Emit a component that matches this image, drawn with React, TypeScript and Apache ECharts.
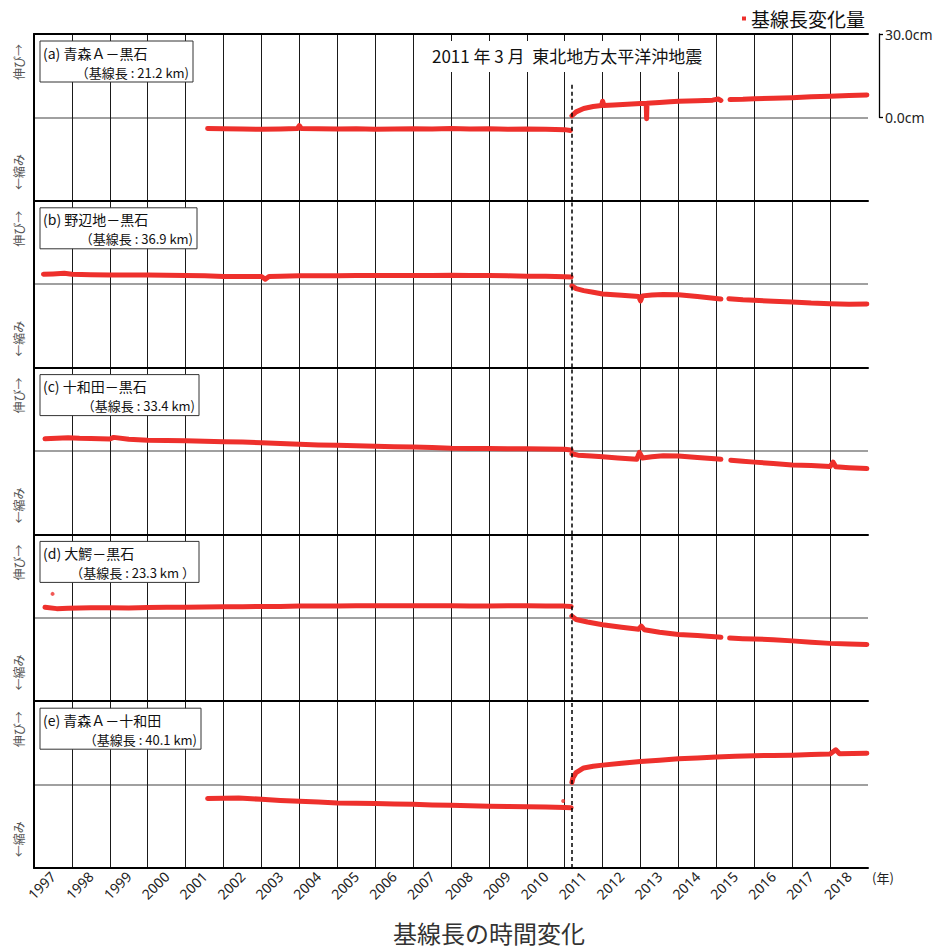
import React, { useEffect, useRef } from "react";
import * as echarts from "echarts";

// ---- Data (cm change of baseline length), null = gap ----
const yearLabels = ["1997","1998","1999","2000","2001","2002","2003","2004","2005","2006","2007","2008","2009","2010","2011","2012","2013","2014","2015","2016","2017","2018"];
const quakeYear = 2011.19;

const aYears = [2001.58,2002.0,2002.5,2003.0,2003.5,2003.95,2004.0,2004.05,2004.5,2005.0,2005.5,2006.0,2006.5,2007.0,2007.5,2008.0,2008.5,2009.0,2009.5,2010.0,2010.5,2011.0,2011.15,2011.17,2011.19,2011.3,2011.5,2011.75,2011.97,2012.0,2012.03,2012.3,2012.65,2013.0,2013.15,2013.16,2013.17,2013.5,2013.78,2014.0,2014.5,2014.9,2015.05,2015.12,2015.2,2015.36,2015.7,2016.0,2016.5,2017.0,2017.5,2018.0,2018.5,2018.97];
const aValues = [-4.0,-4.1,-4.2,-4.3,-4.2,-4.0,-3.0,-4.0,-4.1,-4.2,-4.1,-4.3,-4.2,-4.1,-4.2,-4.0,-4.2,-4.1,-4.3,-4.2,-4.3,-4.4,-4.7,null,0.6,2.0,3.2,3.9,4.3,5.8,4.3,4.5,4.7,5.0,5.0,-0.5,5.1,5.4,5.6,5.8,6.0,6.2,6.6,6.1,null,6.4,6.5,6.7,6.9,7.1,7.4,7.6,7.9,8.1];

const bYears = [1997.25,1997.5,1997.8,1998.0,1998.5,1999.0,1999.5,2000.0,2000.5,2001.0,2001.5,2002.0,2002.5,2003.0,2003.1,2003.2,2003.5,2004.0,2004.5,2005.0,2005.5,2006.0,2006.5,2007.0,2007.5,2008.0,2008.5,2009.0,2009.5,2010.0,2010.5,2011.0,2011.17,2011.18,2011.19,2011.3,2011.5,2011.75,2012.0,2012.5,2012.95,2013.0,2013.05,2013.3,2013.6,2014.0,2014.5,2015.05,2015.12,2015.2,2015.33,2015.7,2016.0,2016.5,2017.0,2017.5,2018.0,2018.5,2018.97];
const bValues = [3.6,3.7,3.9,3.6,3.4,3.3,3.3,3.3,3.2,3.1,3.0,2.8,2.8,2.8,1.8,2.8,2.9,3.0,3.0,3.0,3.1,3.1,3.1,3.1,3.1,3.2,3.1,3.1,3.0,2.9,2.9,2.7,2.6,null,-0.6,-1.6,-2.3,-2.9,-3.5,-4.0,-4.4,-6.0,-4.2,-3.9,-3.7,-3.8,-4.4,-5.2,-5.3,null,-5.2,-5.6,-5.8,-6.1,-6.4,-6.8,-7.0,-7.2,-7.1];

const cYears = [1997.29,1997.6,1997.9,1998.2,1998.5,1999.0,1999.1,1999.5,2000.0,2000.5,2001.0,2001.5,2002.0,2002.5,2003.0,2003.5,2004.0,2004.5,2005.0,2005.5,2006.0,2006.5,2007.0,2007.5,2008.0,2008.5,2009.0,2009.5,2010.0,2010.5,2011.0,2011.17,2011.18,2011.19,2011.35,2011.7,2012.0,2012.4,2012.9,2012.97,2013.05,2013.3,2013.6,2014.0,2014.5,2015.05,2015.12,2015.2,2015.38,2015.7,2016.0,2016.5,2017.0,2017.5,2018.0,2018.08,2018.15,2018.5,2018.97];
const cValues = [4.4,4.6,4.8,4.6,4.5,4.3,4.9,4.2,3.9,3.8,3.7,3.5,3.3,3.2,3.0,2.7,2.4,2.2,2.1,1.9,1.7,1.5,1.4,1.3,1.0,0.9,0.9,0.8,0.8,0.7,0.6,0.4,null,-1.0,-1.5,-1.8,-2.1,-2.5,-3.0,-0.5,-2.5,-2.1,-1.7,-1.8,-2.3,-2.9,-3.0,null,-3.3,-3.7,-4.0,-4.5,-5.0,-5.2,-5.6,-4.0,-5.7,-6.0,-6.3];

const dYears = [1997.29,1997.6,1997.9,1998.2,1998.5,1999.0,1999.5,2000.0,2000.5,2001.0,2001.5,2002.0,2002.5,2003.0,2003.5,2004.0,2004.5,2005.0,2005.5,2006.0,2006.5,2007.0,2007.5,2008.0,2008.5,2009.0,2009.5,2010.0,2010.5,2011.0,2011.17,2011.18,2011.19,2011.3,2011.6,2012.0,2012.5,2012.95,2013.02,2013.1,2013.5,2014.0,2014.5,2015.05,2015.12,2015.2,2015.35,2015.7,2016.0,2016.5,2017.0,2017.5,2018.0,2018.5,2018.97];
const dValues = [3.8,3.3,3.4,3.5,3.6,3.6,3.5,3.7,3.8,3.8,3.9,4.0,4.0,4.1,4.1,4.2,4.2,4.2,4.3,4.3,4.3,4.3,4.3,4.3,4.2,4.2,4.3,4.3,4.2,4.2,4.1,null,0.6,-0.6,-1.5,-2.5,-3.4,-4.1,-3.0,-4.3,-5.2,-6.0,-6.4,-6.9,-7.0,null,-7.3,-7.5,-7.6,-7.9,-8.3,-8.8,-9.2,-9.4,-9.6];
const dOutlierYears = [1997.49];
const dOutlierValues = [8.6];

const eYears = [2001.58,2002.0,2002.4,2003.0,2003.5,2004.0,2004.5,2005.0,2005.5,2006.0,2006.5,2007.0,2007.5,2008.0,2008.5,2009.0,2009.5,2010.0,2010.5,2011.0,2011.17,2011.18,2011.19,2011.22,2011.3,2011.5,2011.75,2012.0,2012.5,2013.0,2013.5,2014.0,2014.5,2015.0,2015.5,2016.0,2016.5,2017.0,2017.5,2018.0,2018.15,2018.25,2018.6,2018.97];
const eValues = [-5.0,-4.9,-4.8,-5.3,-5.7,-6.0,-6.3,-6.6,-6.7,-6.8,-7.0,-7.1,-7.3,-7.4,-7.6,-7.8,-7.9,-8.0,-8.1,-8.2,-8.3,null,0.8,2.5,4.3,6.0,6.6,7.0,7.7,8.3,8.8,9.3,9.6,9.9,10.2,10.4,10.5,10.6,10.8,11.0,12.5,11.1,11.2,11.3];
const eOutlierYears = [2010.96];
const eOutlierValues = [-5.9];

const panelNames = ["(a) 青森Ａ－黒石", "(b) 野辺地－黒石", "(c) 十和田－黒石", "(d) 大鰐－黒石", "(e) 青森Ａ－十和田"];
const panelBaselines = ["（基線長 : 21.2 km)", "（基線長 : 36.9 km)", "（基線長 : 33.4 km)", "（基線長 : 23.3 km ）", "（基線長 : 40.1 km)"];
const seriesName = "基線長変化量";
const quakeLabel = "2011 年 3 月  東北地方太平洋沖地震";
const chartTitle = "基線長の時間変化";

const RED = "#EE302C";
const FONT = "'Noto Sans CJK JP', 'Noto Sans', sans-serif";

function pairs(xs: number[], ys: (number | null)[]) {
  return xs.map((x, i) => [x, ys[i] === null ? "-" : ys[i]]);
}

export default function App() {
  const ref = useRef<HTMLDivElement>(null);
  useEffect(() => {
    if (!ref.current) return;
    const chart = echarts.init(ref.current, null, { renderer: "svg" });
    const top0 = 34;
    const ph = 166.8;
    const left = 34;
    const right = 75;
    const boxW = [153, 157, 159, 159, 161];
    const panels = [
      [aYears, aValues],
      [bYears, bValues],
      [cYears, cValues],
      [dYears, dValues],
      [eYears, eValues],
    ] as [number[], (number | null)[]][];

    const grids: any[] = [];
    const xAxes: any[] = [];
    const yAxes: any[] = [];
    const series: any[] = [];
    const titles: any[] = [];
    const graphics: any[] = [];

    panels.forEach((p, i) => {
      grids.push({ left, right, top: top0 + i * ph, height: ph });
      xAxes.push({
        gridIndex: i, type: "value", min: 1997, max: 2019, interval: 1,
        axisLabel: { show: false }, axisTick: { show: false },
        axisLine: { show: true, onZero: false, lineStyle: { color: "#000", width: 2 } },
        splitLine: { show: true, showMinLine: false, showMaxLine: false, lineStyle: { color: "#1a1a1a", width: 1 } },
      });
      yAxes.push({
        gridIndex: i, type: "value", min: -30, max: 30, interval: 30,
        axisLabel: { show: false }, axisTick: { show: false },
        axisLine: { show: true, onZero: false, lineStyle: { color: "#000", width: 2 } },
        splitLine: { show: true, showMinLine: false, showMaxLine: false, lineStyle: { color: "#808080", width: 1.5 } },
      });
      series.push({
        name: seriesName, type: "line", xAxisIndex: i, yAxisIndex: i,
        data: pairs(p[0], p[1]), showSymbol: false, connectNulls: false,
        lineStyle: { color: RED, width: 5, cap: "round", join: "round" },
        itemStyle: { color: RED }, z: 3,
        markLine: {
          silent: true, symbol: "none", label: { show: false },
          lineStyle: { type: [4, 3], color: "#000", width: 1.5 },
          data: [[{ coord: [quakeYear, -30] }, { coord: [quakeYear, i === 0 ? 12 : 30] }]],
        },
      });
      const t = top0 + i * ph;
      graphics.push({
        type: "rect", x: 40, y: t + 7, z: 100,
        shape: { x: 0, y: 0, width: boxW[i], height: 41 },
        style: { fill: "#fff", stroke: "#333", lineWidth: 1 },
      });
      graphics.push({
        type: "text", x: 43, y: t + 7 + 11.5, z: 101,
        style: { text: panelNames[i], fontSize: 14, fontFamily: FONT, fill: "#111", align: "left", verticalAlign: "middle" },
      });
      graphics.push({
        type: "text", x: 40 + boxW[i] - 4, y: t + 7 + 31, z: 101,
        style: { text: panelBaselines[i], fontSize: 13, fontFamily: FONT, fill: "#111", align: "right", verticalAlign: "middle" },
      });
      graphics.push({
        type: "text", x: 18, y: t + 28, rotation: Math.PI / 2,
        style: { text: "伸び→", fontSize: 12, fontFamily: FONT, fill: "#555", align: "center", verticalAlign: "middle" },
      });
      graphics.push({
        type: "text", x: 18, y: t + 138, rotation: Math.PI / 2,
        style: { text: "←縮み", fontSize: 12, fontFamily: FONT, fill: "#555", align: "center", verticalAlign: "middle" },
      });
    });

    // top border of panel a
    xAxes.push({
      gridIndex: 0, type: "value", min: 1997, max: 2019, position: "top",
      axisLabel: { show: false }, axisTick: { show: false }, splitLine: { show: false },
      axisLine: { show: true, onZero: false, lineStyle: { color: "#000", width: 2 } },
    });
    // year labels centred in each year band
    xAxes.push({
      gridIndex: 4, type: "category", data: yearLabels, boundaryGap: true, position: "bottom",
      axisLine: { show: false }, axisTick: { show: false }, splitLine: { show: false },
      axisLabel: { interval: 0, rotate: 45, fontSize: 14, fontFamily: "'Noto Sans', sans-serif", color: "#222", margin: 6 },
    });
    // scale bar grid
    grids.push({ left, right, top: top0, height: ph / 2 });
    xAxes.push({ gridIndex: 5, type: "value", min: 0, max: 1, show: false });
    yAxes.push({
      gridIndex: 5, type: "value", min: 0, max: 30, interval: 30, position: "right", offset: 11,
      axisLine: { show: true, onZero: false, lineStyle: { color: "#000", width: 1.3 } },
      axisTick: { show: true, length: 4, lineStyle: { color: "#000", width: 1.3 } },
      splitLine: { show: false },
      axisLabel: { formatter: (v: number) => v.toFixed(1) + "cm", fontSize: 14, fontFamily: "'Noto Sans', sans-serif", color: "#222", margin: 6 },
    });

    series.push({
      name: seriesName, type: "scatter", xAxisIndex: 3, yAxisIndex: 3,
      data: pairs(dOutlierYears, dOutlierValues), symbolSize: 4, itemStyle: { color: RED },
    });
    series.push({
      name: seriesName, type: "scatter", xAxisIndex: 4, yAxisIndex: 4,
      data: pairs(eOutlierYears, eOutlierValues), symbolSize: 4, itemStyle: { color: RED },
    });

    titles.push({
      text: quakeLabel, left: 426, top: 41, backgroundColor: "#fff", padding: [6, 6, 8, 6],
      textStyle: { fontFamily: FONT, fontSize: 17, fontWeight: "normal", color: "#111" },
    });
    titles.push({
      text: chartTitle, left: 393, top: 920, padding: 0,
      textStyle: { fontFamily: FONT, fontSize: 24, fontWeight: "normal", color: "#333" },
    });
    graphics.push({
      type: "text", x: 872, y: 877,
      style: { text: "(年)", fontSize: 13, fontFamily: FONT, fill: "#222", align: "left", verticalAlign: "middle" },
    });

    chart.setOption({
      animation: false,
      backgroundColor: "#fff",
      title: titles,
      legend: {
        data: [seriesName], right: 73, top: 4, icon: "rect", itemWidth: 4, itemHeight: 4, itemGap: 6,
        textStyle: { fontFamily: FONT, fontSize: 19, color: "#111" },
      },
      grid: grids,
      xAxis: xAxes,
      yAxis: yAxes,
      series,
      graphic: graphics,
    });
    return () => chart.dispose();
  }, []);
  return <div ref={ref} style={{ position: "fixed", left: 0, top: 0, width: 943, height: 949 }} />;
}
